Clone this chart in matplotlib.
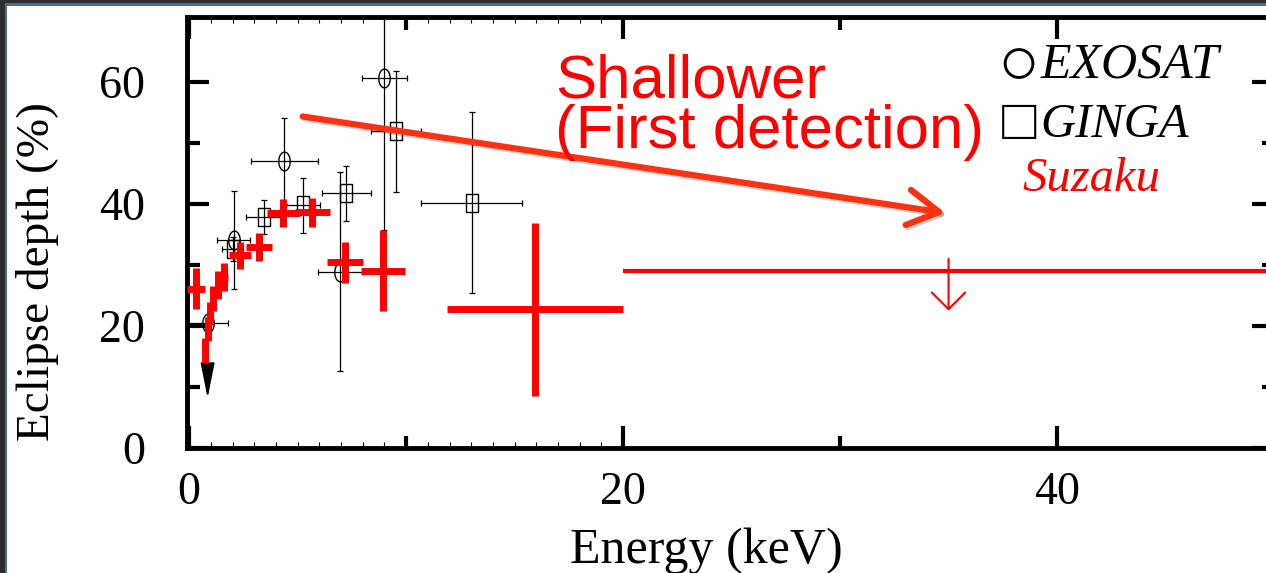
import numpy as np
import matplotlib
matplotlib.use("Agg")
import matplotlib.pyplot as plt
import matplotlib.patheffects as pe
from matplotlib.patches import Rectangle

# EXOSAT (open circles)
exo_E = [2.05, 4.39, 6.97, 9.0]
exo_D = [34.1, 47.0, 28.9, 60.6]
exo_xerr = [0.77, 1.54, 1.03, 1.02]
exo_yerr = [8.0, 7.1, 16.3, 24.9]
# EXOSAT upper limit
exo_ul_E = [0.85]
exo_ul_D = [20.4]
exo_ul_xerr = [0.96]
exo_ul_tip = [8.2]

# GINGA (open squares)
gin_E = [2.0, 3.43, 5.24, 7.25, 9.55, 13.03]
gin_D = [32.6, 37.8, 39.8, 41.7, 51.9, 40.2]
gin_xerr = [0.5, 0.82, 0.77, 1.13, 1.15, 2.33]
gin_yerr = [2.0, 2.8, 4.5, 4.5, 9.9, 14.8]

# Suzaku (red crosses)
suz_E = [0.32, 0.71, 0.86, 0.98, 1.12, 1.32, 1.62, 2.34, 3.24, 4.34, 5.68, 7.18, 8.93, 15.95]
suz_D = [26.1, 16.0, 19.5, 22.0, 24.5, 26.7, 28.0, 31.6, 32.9, 38.5, 38.6, 30.4, 29.05, 22.7]
suz_xerr = [0.4, 0.08, 0.08, 0.08, 0.08, 0.1, 0.15, 0.5, 0.6, 0.75, 0.82, 0.85, 1.03, 4.05]
suz_yerr = [3.4, 2.1, 2.0, 1.9, 2.0, 2.3, 2.3, 2.2, 2.3, 2.3, 2.4, 3.3, 6.65, 14.2]
# Suzaku upper limit
suz_ul_E = [35.0]
suz_ul_D = [29.0]
suz_ul_xerr = [15.0]
suz_ul_top = [31.0]
suz_ul_tip = [22.5]

# annotation arrow (data units)
arrow_start = (5.23, 54.3)
arrow_end = (34.85, 38.5)

W, H = 1266, 573
fig = plt.figure(figsize=(W / 100, H / 100), dpi=100)
fig.patch.set_facecolor("white")
ax = fig.add_axes([187 / W, 1 - 448 / H, (1274 - 187) / W, 431 / H])

serif = ["Liberation Serif", "DejaVu Serif"]

# black scanned data
t = np.linspace(0, 2 * np.pi, 60)
ell = list(zip(0.61 * np.cos(t), np.sin(t)))
sq = [(-0.65, -1), (0.65, -1), (0.65, 1), (-0.65, 1), (-0.65, -1)]

ax.errorbar(exo_E, exo_D, xerr=exo_xerr, yerr=exo_yerr, fmt="none", ecolor="black",
            elinewidth=0.9, capsize=2.2, capthick=0.9, zorder=2)
ax.plot(exo_E, exo_D, ls="none", marker=ell, ms=13.5, mfc="none", mec="black", mew=1.0, zorder=2)
ax.errorbar(exo_ul_E, exo_ul_D, xerr=exo_ul_xerr, fmt="none", ecolor="black",
            elinewidth=0.9, capsize=2.2, capthick=0.9, zorder=2)
ax.plot(exo_ul_E, exo_ul_D, ls="none", marker=ell, ms=13.5, mfc="none", mec="black", mew=1.0, zorder=2)
for e, d, tip in zip(exo_ul_E, exo_ul_D, exo_ul_tip):
    ax.annotate("", xy=(e, tip), xytext=(e, d),
                arrowprops=dict(arrowstyle="-|>,head_length=1.1,head_width=0.22",
                                color="black", lw=1.2, mutation_scale=20,
                                shrinkA=0, shrinkB=0), zorder=2)

ax.errorbar(gin_E, gin_D, xerr=gin_xerr, yerr=gin_yerr, fmt="none", ecolor="black",
            elinewidth=0.9, capsize=2.2, capthick=0.9, zorder=2)
ax.plot(gin_E, gin_D, ls="none", marker=sq, ms=12.5, mfc="none", mec="black", mew=1.0, zorder=2)

# Suzaku
ax.errorbar(suz_E, suz_D, xerr=suz_xerr, yerr=suz_yerr, fmt="none", ecolor="#ff0000",
            elinewidth=5.0, capsize=0, zorder=4)
ax.errorbar(suz_ul_E, suz_ul_D, xerr=suz_ul_xerr, fmt="none", ecolor="#ff0000",
            elinewidth=3.0, capsize=0, zorder=4)
for e, top, tip in zip(suz_ul_E, suz_ul_top, suz_ul_tip):
    ax.annotate("", xy=(e, tip), xytext=(e, top),
                arrowprops=dict(arrowstyle="->,head_length=0.5,head_width=0.5",
                                color="#ff0000", lw=1.5, mutation_scale=24,
                                shrinkA=0, shrinkB=0), zorder=4)

# big arrow
ax.annotate("", xy=arrow_end, xytext=arrow_start,
            arrowprops=dict(arrowstyle="->,head_length=0.7,head_width=0.4",
                            color="#fa3214", lw=4.5, mutation_scale=32,
                            shrinkA=0, shrinkB=0,
                            path_effects=[pe.SimpleLineShadow(offset=(1.5, -1.5), alpha=0.18),
                                          pe.Normal()]), zorder=5)

ax.text(0.3385, 0.814, "Shallower", transform=ax.transAxes, color="#ff0000",
        fontsize=44.5, family="Liberation Sans", va="baseline", ha="left", zorder=6)
ax.text(0.3385, 0.696, "(First detection)", transform=ax.transAxes, color="#ff0000",
        fontsize=44.5, family="Liberation Sans", va="baseline", ha="left", zorder=6)

# legend-like labels
ax.text(0.7645, 0.884, "○", transform=ax.transAxes, fontsize=50, family=serif,
        va="center", ha="center")
ax.text(0.785, 0.889, "EXOSAT", transform=ax.transAxes, fontsize=36, style="italic",
        family=serif, va="center", ha="left")
ax.text(0.7655, 0.750, "□", transform=ax.transAxes, fontsize=41, family=serif,
        va="center", ha="center")
ax.text(0.785, 0.749, "GINGA", transform=ax.transAxes, fontsize=35, style="italic",
        family=serif, va="center", ha="left")
ax.text(0.769, 0.624, "Suzaku", transform=ax.transAxes, fontsize=35, style="italic",
        family=serif, color="#ff0000", va="center", ha="left")

# axes
ax.set_xlim(-0.1, 50)
ax.set_ylim(0, 70.6)
ax.set_xticks([0, 20, 40])
ax.set_xticks([10, 30], minor=True)
ax.set_yticks([0, 20, 40, 60])
ax.set_yticks([10, 30, 50], minor=True)
for lab in ax.get_xticklabels() + ax.get_yticklabels():
    lab.set_family(serif)
    lab.set_fontsize(33)
ax.tick_params(which="both", direction="in", top=True, right=True, width=3)
ax.tick_params(which="major", length=16)
ax.tick_params(which="minor", length=9)
ax.tick_params(axis="y", pad=30)
ax.tick_params(axis="x", pad=17)
for s in ["left", "bottom", "top"]:
    ax.spines[s].set_linewidth(3.5)
ax.spines["right"].set_visible(False)

# fine ticks from the scanned original figure
for loc in ["bottom", "top"]:
    sec = ax.secondary_xaxis(loc)
    sec.set_xticks(range(0, 21))
    sec.set_xticks([5, 15], minor=True)
    sec.tick_params(which="major", direction="in", length=4, width=0.8, labelbottom=False,
                    labeltop=False)
    sec.tick_params(which="minor", direction="in", length=10, width=0.8)
    sec.set_xticklabels([])
    sec.spines[loc].set_visible(False)

ax.set_xlabel("Energy (keV)", fontsize=36, family=serif)
ax.xaxis.set_label_coords(0.4775, -0.185)
ax.set_ylabel("Eclipse depth (%)", fontsize=34, family=serif)
ax.yaxis.set_label_coords(-0.118, 0.41)

# slide frame
fig.add_artist(Rectangle((0, 1 - 3 / H), 1, 3 / H, transform=fig.transFigure,
                         color="#2e2e2e", lw=0))
fig.add_artist(Rectangle((0, 1 - 6 / H), 1, 3 / H, transform=fig.transFigure,
                         color="#4a6a9c", lw=0))
fig.add_artist(Rectangle((0, 0), 5 / W, 1, transform=fig.transFigure,
                         color="#2e2e2e", lw=0))
fig.add_artist(Rectangle((5 / W, 0), 2 / W, 1 - 3 / H, transform=fig.transFigure,
                         color="#4a6a9c", lw=0))

fig.savefig("out.png", dpi=100)
